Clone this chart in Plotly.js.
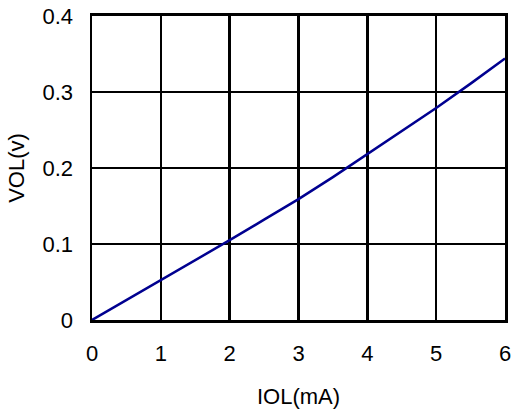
<!DOCTYPE html>
<html>
<head>
<meta charset="utf-8">
<script src="https://cdn.plot.ly/plotly-3.0.1.min.js"></script>
<style>html,body{margin:0;padding:0;background:#fff;}#chart{width:514px;height:410px;}</style>
</head>
<body>
<div id="chart"></div>
<script>
const iol = [0, 0.5, 1, 1.5, 2, 2.5, 3, 3.5, 4, 4.5, 5, 5.5, 6];
const vol = [0, 0.026, 0.053, 0.079, 0.105, 0.132, 0.159, 0.188, 0.218, 0.248, 0.279, 0.311, 0.344];
const xTicks = [0, 1, 2, 3, 4, 5, 6];
const yTicks = [0, 0.1, 0.2, 0.3, 0.4];
const yTickText = ['0', '0.1', '0.2', '0.3', '0.4'];

const font = {family: 'Liberation Sans, Arial, sans-serif', size: 22, color: '#000'};

Plotly.newPlot('chart', [{
  x: iol, y: vol, type: 'scatter', mode: 'lines',
  line: {color: '#000090', width: 2.5}, hoverinfo: 'none'
}], {
  width: 514, height: 410,
  margin: {l: 92, r: 9, t: 16, b: 90},
  paper_bgcolor: '#fff', plot_bgcolor: '#fff',
  showlegend: false,
  font: font,
  xaxis: {
    range: [0, 6], tickvals: xTicks, ticktext: xTicks.map(String),
    showgrid: true, gridcolor: '#000', gridwidth: 2.5,
    zeroline: false, showline: true, linecolor: '#000', linewidth: 3, mirror: true,
    ticks: '', ticklabelstandoff: 12,
    tickfont: font,
    title: {text: 'IOL(mA)', font: font, standoff: 24},
    fixedrange: true
  },
  yaxis: {
    range: [0, 0.4], tickvals: yTicks, ticktext: yTickText,
    showgrid: true, gridcolor: '#000', gridwidth: 2.5,
    zeroline: false, showline: true, linecolor: '#000', linewidth: 2.5, mirror: true,
    ticks: '', ticklabelstandoff: 12,
    tickfont: font,
    title: {text: 'VOL(v)', font: font, standoff: 12},
    fixedrange: true
  }
}, {staticPlot: true, displayModeBar: false});
</script>
</body>
</html>
